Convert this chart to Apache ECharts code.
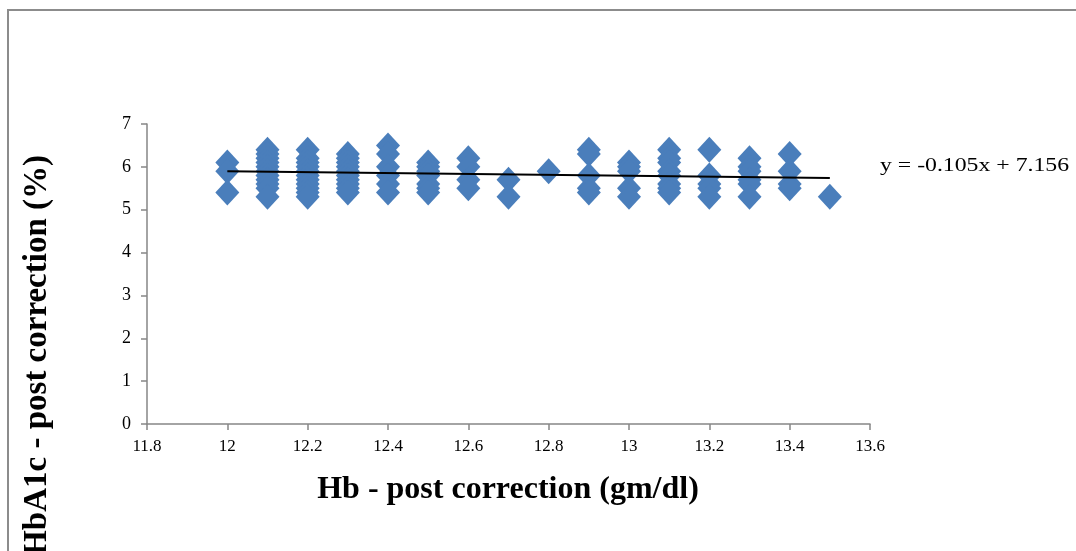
<!DOCTYPE html>
<html>
<head>
<meta charset="utf-8">
<script src="https://cdn.jsdelivr.net/npm/echarts@6/dist/echarts.min.js"></script>
<style>html,body{margin:0;padding:0;background:#fff}#c{width:1076px;height:551px}</style>
</head>
<body>
<div id="c"></div>
<script>
// Hb (x) values and HbA1c (y) values for each Hb group
const hbValues = [12.0, 12.1, 12.2, 12.3, 12.4, 12.5, 12.6, 12.7, 12.8, 12.9, 13.0, 13.1, 13.2, 13.3, 13.4, 13.5];
const hba1cGroups = [
  [6.1, 5.9, 5.4],
  [6.4, 6.3, 6.2, 6.1, 6.0, 5.9, 5.8, 5.7, 5.6, 5.5, 5.3],
  [6.4, 6.2, 6.1, 6.0, 5.9, 5.8, 5.7, 5.6, 5.5, 5.4, 5.3],
  [6.3, 6.2, 6.1, 6.0, 5.9, 5.8, 5.7, 5.6, 5.5, 5.4],
  [6.5, 6.3, 6.0, 5.8, 5.6, 5.4],
  [6.1, 6.0, 5.9, 5.8, 5.6, 5.5, 5.4],
  [6.2, 6.0, 5.7, 5.5],
  [5.7, 5.3],
  [5.9],
  [6.4, 6.3, 5.8, 5.5, 5.4],
  [6.1, 6.0, 5.9, 5.5, 5.3],
  [6.4, 6.2, 6.1, 5.9, 5.8, 5.6, 5.5, 5.4],
  [6.4, 5.8, 5.6, 5.5, 5.3],
  [6.2, 6.0, 5.9, 5.7, 5.6, 5.3],
  [6.3, 5.9, 5.6, 5.5],
  [5.3]
];
// trendline coefficients as printed on the chart
const slope = -0.105;
const intercept = 7.156;
const xTicks = ['11.8','12','12.2','12.4','12.6','12.8','13','13.2','13.4','13.6'];
const yTicks = ['0','1','2','3','4','5','6','7'];
const xTitle = 'Hb - post correction (gm/dl)';
const yTitle = 'HbA1c - post correction (%)';
const eqText = 'y = -0.105x + 7.156';

const points = [];
hbValues.forEach((x, i) => hba1cGroups[i].forEach(y => points.push([x, y])));
const xMinData = Math.min(...hbValues), xMaxData = Math.max(...hbValues);
const trend = [[xMinData, slope * xMinData + intercept], [xMaxData, slope * xMaxData + intercept]];

const FONT = '"Liberation Serif", "Times New Roman", serif';
const axisGray = '#868686';
const chart = echarts.init(document.getElementById('c'), null, {renderer: 'canvas'});
chart.setOption({
  animation: false,
  backgroundColor: '#ffffff',
  grid: {left: 147, right: 206, top: 124, bottom: 127, containLabel: false},
  xAxis: {
    type: 'value', min: 11.8, max: 13.6, interval: 0.2,
    splitLine: {show: false},
    axisLine: {show: true, onZero: false, lineStyle: {color: axisGray, width: 1.5}},
    axisTick: {show: true, length: 6, lineStyle: {color: axisGray, width: 1.5}},
    axisLabel: {color: '#000', fontFamily: FONT, fontSize: 17, margin: 14,
      formatter: (v) => xTicks[Math.round((v - 11.8) / 0.2)] ?? ''},
  },
  yAxis: {
    type: 'value', min: 0, max: 7, interval: 1,
    splitLine: {show: false},
    axisLine: {show: true, lineStyle: {color: axisGray, width: 1.5}},
    axisTick: {show: true, length: 6, lineStyle: {color: axisGray, width: 1.5}},
    axisLabel: {color: '#000', fontFamily: FONT, fontSize: 18, margin: 16,
      formatter: (v) => yTicks[Math.round(v)] ?? ''},
  },
  series: [
    {
      type: 'scatter', data: points, symbol: 'diamond', symbolSize: [24, 26],
      itemStyle: {color: '#4A7EBB', opacity: 1}, z: 2
    },
    {
      type: 'line', data: trend, symbol: 'none', z: 3,
      lineStyle: {color: '#000', width: 2}
    }
  ],
  graphic: [
    {type: 'rect', x: 8, y: 10, shape: {x: 0, y: 0, width: 1200, height: 700},
      style: {fill: 'none', stroke: '#8c8c8c', lineWidth: 2}, silent: true},
    {type: 'text', x: 508, y: 490,
      style: {text: xTitle, font: 'bold 32px ' + FONT, fill: '#000', textAlign: 'center', textVerticalAlign: 'middle'}},
    {type: 'text', x: 37, y: 155, rotation: Math.PI / 2,
      style: {text: yTitle, font: 'bold 33px ' + FONT, fill: '#000', textAlign: 'right', textVerticalAlign: 'middle'}},
    {type: 'text', x: 880, y: 166, scaleX: 1.25,
      style: {text: eqText, font: '19px ' + FONT, fill: '#000', textAlign: 'left', textVerticalAlign: 'middle'}}
  ]
});
</script>
</body>
</html>
